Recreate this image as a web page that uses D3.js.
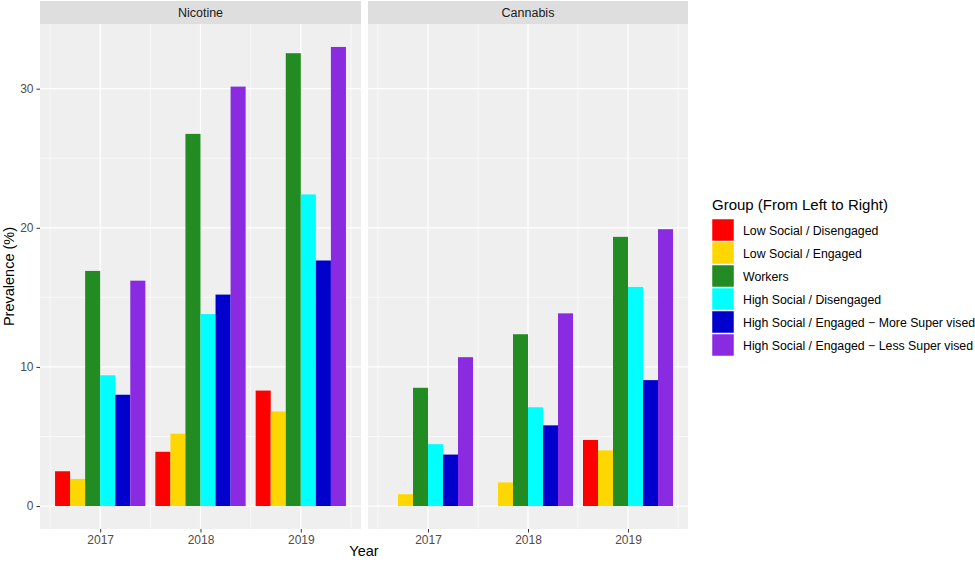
<!DOCTYPE html>
<html><head><meta charset="utf-8">
<script src="https://cdn.jsdelivr.net/npm/d3@7"></script>
<style>body{margin:0;background:#fff;font-family:"Liberation Sans",Arial,sans-serif;}</style>
</head><body><svg id="c" width="975" height="563"></svg>
<script>
const years = ["2017","2018","2019"];
const substances = ["Nicotine","Cannabis"];
const groups = ["Low Social / Disengaged","Low Social / Engaged","Workers","High Social / Disengaged","High Social / Engaged \u2212 More Super vised","High Social / Engaged \u2212 Less Super vised"];
const colors = ["#FF0000","#FFD700","#228B22","#00FFFF","#0000CD","#8A2BE2"];
// values per group, by year [2017, 2018, 2019]
const nicotine = [
  [2.5, 3.9, 8.3],
  [1.95, 5.2, 6.8],
  [16.9, 26.75, 32.55],
  [9.4, 13.8, 22.4],
  [8.0, 15.2, 17.65],
  [16.2, 30.15, 33.0]
];
const cannabis = [
  [0, 0, 4.75],
  [0.85, 1.7, 4.0],
  [8.5, 12.35, 19.35],
  [4.45, 7.1, 15.75],
  [3.7, 5.8, 9.05],
  [10.7, 13.85, 19.9]
];
const yTicks = [0,10,20,30];
const dataBy = {Nicotine: nicotine, Cannabis: cannabis};

const svg = d3.select("#c");
const panelTop = 24, panelBottom = 529, stripTop = 1;
const panels = [{name:"Nicotine", x0:40, x1:361},{name:"Cannabis", x0:368, x1:688}];
const y = d3.scaleLinear().domain([-1.65, 34.65]).range([panelBottom, panelTop]);

panels.forEach((p, pi) => {
  const x = d3.scaleLinear().domain([0.4, 3.6]).range([p.x0, p.x1]);
  const g = svg.append("g");
  // strip
  g.append("rect").attr("x", p.x0).attr("y", stripTop).attr("width", p.x1-p.x0).attr("height", panelTop-stripTop).attr("fill","#dedede");
  g.append("text").attr("x",(p.x0+p.x1)/2).attr("y",(stripTop+panelTop)/2+4.5).attr("text-anchor","middle").attr("font-size",12.5).attr("fill","#1a1a1a").text(p.name);
  // panel
  g.append("rect").attr("x", p.x0).attr("y", panelTop).attr("width", p.x1-p.x0).attr("height", panelBottom-panelTop).attr("fill","#efefef");
  // minor grid
  [5,15,25].forEach(v => g.append("line").attr("x1",p.x0).attr("x2",p.x1).attr("y1",y(v)).attr("y2",y(v)).attr("stroke","#fff").attr("stroke-width",0.6));
  [0.5,1.5,2.5,3.5].forEach(v => g.append("line").attr("y1",panelTop).attr("y2",panelBottom).attr("x1",x(v)).attr("x2",x(v)).attr("stroke","#fff").attr("stroke-width",0.6));
  // major grid
  yTicks.forEach(v => g.append("line").attr("x1",p.x0).attr("x2",p.x1).attr("y1",y(v)).attr("y2",y(v)).attr("stroke","#fff").attr("stroke-width",1.2));
  years.forEach((yr,i) => g.append("line").attr("y1",panelTop).attr("y2",panelBottom).attr("x1",x(i+1)).attr("x2",x(i+1)).attr("stroke","#fff").attr("stroke-width",1.2));
  // bars
  const bw = 0.9/groups.length;
  const vals = dataBy[p.name];
  groups.forEach((gname, gi) => {
    years.forEach((yr, yi) => {
      const v = vals[gi][yi];
      const xl = x(yi+1 - 0.45 + gi*bw);
      g.append("rect").attr("x", xl).attr("width", x(bw)-x(0)).attr("y", y(v)).attr("height", y(0)-y(v)).attr("fill", colors[gi]);
    });
  });
  // x axis
  const xa = d3.axisBottom(x).tickValues([1,2,3]).tickFormat(d => years[d-1]).tickSize(3.5).tickPadding(3);
  const ax = g.append("g").attr("transform",`translate(0,${panelBottom})`).call(xa);
  ax.select(".domain").remove();
  ax.selectAll("line").attr("stroke","#333");
  ax.selectAll("text").attr("font-size",12).attr("fill","#4d4d4d").attr("font-family","Liberation Sans, Arial, sans-serif");
  if (pi === 0) {
    const ya = d3.axisLeft(y).tickValues(yTicks).tickSize(3.5).tickPadding(3);
    const ay = g.append("g").attr("transform",`translate(${p.x0},0)`).call(ya);
    ay.select(".domain").remove();
    ay.selectAll("line").attr("stroke","#333");
    ay.selectAll("text").attr("font-size",12).attr("fill","#4d4d4d").attr("font-family","Liberation Sans, Arial, sans-serif");
  }
});

// axis titles
svg.append("text").attr("x",364).attr("y",556).attr("text-anchor","middle").attr("font-size",14.5).attr("fill","#000").text("Year");
svg.append("text").attr("transform",`translate(14,${(panelTop+panelBottom)/2}) rotate(-90)`).attr("text-anchor","middle").attr("font-size",14.5).attr("fill","#000").text("Prevalence (%)");

// legend
const lg = svg.append("g");
lg.append("text").attr("x",712).attr("y",210).attr("font-size",15).attr("fill","#000").text("Group (From Left to Right)");
groups.forEach((gname, i) => {
  const yy = 219 + i*23;
  lg.append("rect").attr("x",712).attr("y",yy).attr("width",22).attr("height",22).attr("fill",colors[i]).attr("stroke","#fff").attr("stroke-width",0.5);
  lg.append("text").attr("x",743).attr("y",yy+15.5).attr("font-size",12.3).attr("fill","#000").text(gname);
});
</script></body></html>
